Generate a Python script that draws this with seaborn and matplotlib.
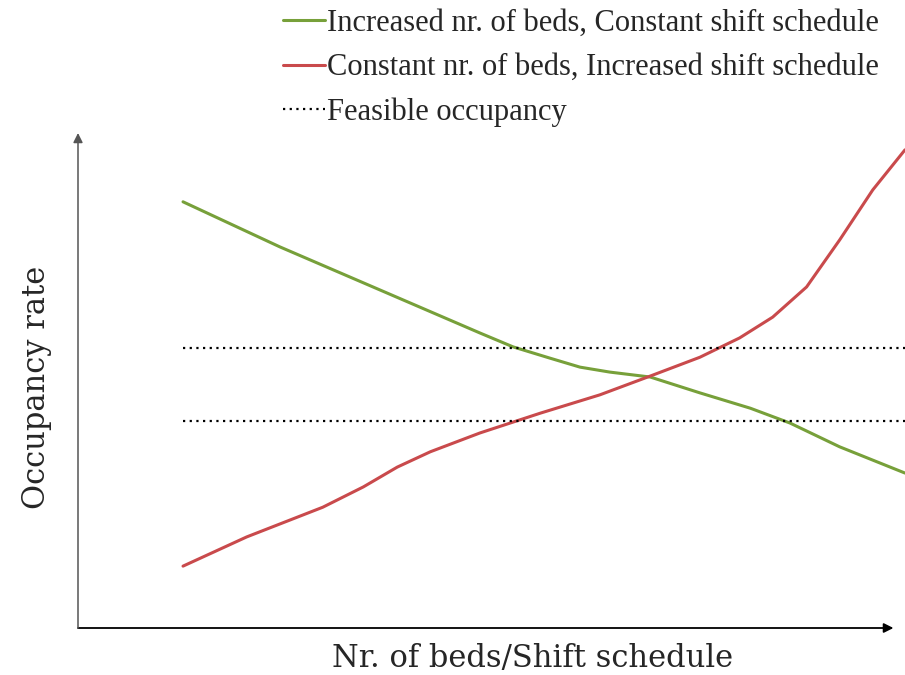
import matplotlib.pyplot as plt
import pandas as pd
import seaborn as sns

# values, arbitrary units (0-100 on both axes)
bed_x = [12.7, 24.4, 36.5, 48.6, 52.6, 57.1, 60.7, 64.3, 69.2, 75.2, 81.3, 86.1, 92.1, 100.0]
bed_y = [86.1, 77.0, 68.3, 59.6, 56.8, 54.5, 52.7, 51.7, 50.7, 47.5, 44.4, 41.4, 36.6, 31.3]

shift_x = [12.7, 20.4, 29.6, 34.5, 38.6, 42.6, 48.6, 55.9, 63.1, 69.2, 75.2, 80.0, 84.0, 88.1, 92.1, 96.1, 100.0]
shift_y = [12.5, 18.4, 24.4, 28.5, 32.5, 35.6, 39.4, 43.4, 47.1, 50.9, 54.7, 58.6, 62.8, 68.9, 78.4, 88.5, 96.6]

feasible_levels = [56.6, 41.8]
feasible_x = [12.7, 100.0]

labels = [
    'Increased nr. of beds, Constant shift schedule',
    'Constant nr. of beds, Increased shift schedule',
    'Feasible occupancy',
]
GREEN = '#77a03a'
RED = '#c94a4c'

sns.set_style('white')
plt.rcParams['font.family'] = ['DejaVu Serif']

fig = plt.figure(figsize=(9.05, 6.75), dpi=100)
# axes span the drawing area: x 78..905 px, y 133..628 px
ax = fig.add_axes([78 / 905, 47 / 675, 827 / 905, 495 / 675])
ax.set_xlim(0, 100)
ax.set_ylim(0, 100)

df = pd.concat([
    pd.DataFrame({'x': bed_x, 'y': bed_y, 'series': labels[0]}),
    pd.DataFrame({'x': shift_x, 'y': shift_y, 'series': labels[1]}),
])
sns.lineplot(data=df, x='x', y='y', hue='series', palette=[GREEN, RED],
             linewidth=2.2, sort=False, estimator=None, legend=False, ax=ax)
for line in ax.lines:
    line.set_solid_joinstyle('round')

for lvl in feasible_levels:
    ax.plot(feasible_x, [lvl, lvl], color='black', linestyle=(0, (1, 2)),
            linewidth=1.6)

for s in ax.spines.values():
    s.set_visible(False)
ax.set_xticks([])
ax.set_yticks([])
ax.set_xlabel('')
ax.set_ylabel('')

# axis arrows
ax.annotate('', xy=(98.6, 0), xytext=(0, 0),
            arrowprops=dict(arrowstyle='-|>', color='black', lw=1.3,
                            mutation_scale=14, shrinkA=0, shrinkB=0),
            annotation_clip=False)
ax.annotate('', xy=(0, 100), xytext=(0, 0),
            arrowprops=dict(arrowstyle='-|>', color='#555555', lw=1.1,
                            mutation_scale=14, shrinkA=0, shrinkB=0),
            annotation_clip=False)

fig.text(533 / 905, 1 - 659 / 675, 'Nr. of beds/Shift schedule',
         ha='center', va='center', fontsize=22)
fig.text(37 / 905, 1 - 387 / 675, 'Occupancy rate', rotation=90,
         ha='center', va='center', fontsize=22)

handles = [
    plt.Line2D([], [], color=GREEN, linewidth=2.2),
    plt.Line2D([], [], color=RED, linewidth=2.2),
    plt.Line2D([], [], color='black', linestyle=(0, (1, 2)), linewidth=1.6),
]
fig.legend(handles, labels, loc='upper left', bbox_to_anchor=(283 / 905, 1 - 9 / 675),
           frameon=False, handlelength=1.37, handletextpad=0.07,
           labelspacing=0.5, borderaxespad=0, borderpad=0,
           prop={'family': ['Liberation Serif', 'DejaVu Serif'], 'size': 22})

fig.savefig('out.png', dpi=100)
